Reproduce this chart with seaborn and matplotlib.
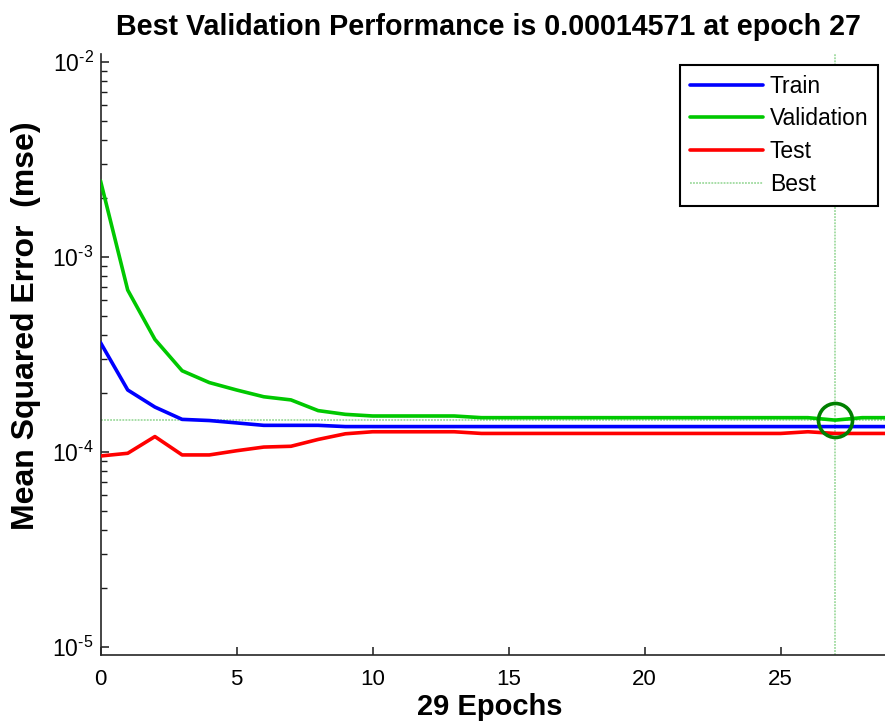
import numpy as np
import pandas as pd
import matplotlib
matplotlib.use("Agg")
import matplotlib.pyplot as plt
import seaborn as sns
from matplotlib.ticker import FixedLocator, FixedFormatter, NullFormatter

# ---------------- data ----------------
epochs = list(range(0, 30))
train = [3.64e-4, 2.08e-4, 1.70e-4, 1.47e-4, 1.45e-4, 1.41e-4, 1.37e-4, 1.37e-4,
         1.37e-4, 1.35e-4, 1.35e-4, 1.35e-4, 1.35e-4, 1.35e-4, 1.35e-4, 1.35e-4,
         1.35e-4, 1.35e-4, 1.35e-4, 1.35e-4, 1.35e-4, 1.35e-4, 1.35e-4, 1.35e-4,
         1.35e-4, 1.35e-4, 1.35e-4, 1.35e-4, 1.35e-4, 1.35e-4]
validation = [2.46e-3, 6.77e-4, 3.78e-4, 2.61e-4, 2.27e-4, 2.08e-4, 1.92e-4, 1.85e-4,
              1.63e-4, 1.56e-4, 1.53e-4, 1.53e-4, 1.53e-4, 1.53e-4, 1.50e-4, 1.50e-4,
              1.50e-4, 1.50e-4, 1.50e-4, 1.50e-4, 1.50e-4, 1.50e-4, 1.50e-4, 1.50e-4,
              1.50e-4, 1.50e-4, 1.50e-4, 1.4571e-4, 1.50e-4, 1.50e-4]
test = [9.54e-5, 9.85e-5, 1.20e-4, 9.66e-5, 9.66e-5, 1.015e-4, 1.06e-4, 1.07e-4,
        1.16e-4, 1.24e-4, 1.27e-4, 1.27e-4, 1.27e-4, 1.27e-4, 1.245e-4, 1.245e-4,
        1.245e-4, 1.245e-4, 1.245e-4, 1.245e-4, 1.245e-4, 1.245e-4, 1.245e-4, 1.245e-4,
        1.245e-4, 1.245e-4, 1.27e-4, 1.245e-4, 1.245e-4, 1.245e-4]
best_epoch = 27
best_value = 0.00014571
series_names = ["Train", "Validation", "Test"]
series_colors = ["#0000ff", "#00c800", "#ff0000"]
x_ticks = [0, 5, 10, 15, 20, 25]
y_major = [1e-5, 1e-4, 1e-3, 1e-2]
y_major_labels = [r"$\mathregular{10^{\text{-}5}}$", r"$\mathregular{10^{\text{-}4}}$",
                  r"$\mathregular{10^{\text{-}3}}$", r"$\mathregular{10^{\text{-}2}}$"]
title_text = "Best Validation Performance is 0.00014571 at epoch 27"
x_label = "29 Epochs"
y_label = "Mean Squared Error  (mse)"

# ---------------- style ----------------
sns.set_theme(style="white")
plt.rcParams["font.family"] = ["Liberation Sans", "DejaVu Sans"]
plt.rcParams["mathtext.fontset"] = "custom"
plt.rcParams["mathtext.rm"] = "Liberation Sans"
plt.rcParams["text.color"] = "black"
plt.rcParams["axes.labelcolor"] = "black"

W, H = 885, 721
fig = plt.figure(figsize=(W / 100, H / 100), dpi=100)
ax_left, ax_right, ax_top, ax_bottom = 100.5, 889.5, 54, 655
ax = fig.add_axes([ax_left / W, (H - ax_bottom) / H,
                   (ax_right - ax_left) / W, (ax_bottom - ax_top) / H])

df = pd.DataFrame({
    "epoch": epochs * 3,
    "mse": train + validation + test,
    "set": ["Train"] * len(epochs) + ["Validation"] * len(epochs) + ["Test"] * len(epochs),
})

for name, col in zip(series_names, series_colors):
    sns.lineplot(data=df[df["set"] == name], x="epoch", y="mse", color=col,
                 linewidth=2.6, label=name, ax=ax, sort=False, zorder=3)

best_col = "#8fd48f"
ax.axvline(best_epoch, color=best_col, linestyle=(0, (1.2, 0.8)), linewidth=1.1,
           label="Best", zorder=2)
ax.axhline(best_value, color=best_col, linestyle=(0, (1.2, 0.8)), linewidth=1.1,
           label="_nolegend_", zorder=2)
ax.plot([best_epoch], [best_value], marker="o", markersize=24.5, markerfacecolor="none",
        markeredgecolor="#008000", markeredgewidth=2.6, linestyle="none",
        label="_nolegend_", zorder=5)

ax.set_yscale("log")
ax.set_xlim(0, 29)
ax.set_ylim(10 ** -5.041, 10 ** -1.959)

ax.xaxis.set_major_locator(FixedLocator(x_ticks))
ax.set_xticklabels([str(t) for t in x_ticks])
ax.yaxis.set_major_locator(FixedLocator(y_major))
ax.yaxis.set_major_formatter(FixedFormatter(y_major_labels))
minor = [m * 10.0 ** e for e in range(-6, -1) for m in range(2, 10)]
ax.yaxis.set_minor_locator(FixedLocator(minor))
ax.yaxis.set_minor_formatter(NullFormatter())

ax.tick_params(axis="x", which="major", direction="in", length=6, width=1.1,
               colors="#1a1a1a", labelsize=16, pad=10, top=False, bottom=True)
ax.tick_params(axis="y", which="major", direction="in", length=6, width=1.1,
               colors="#1a1a1a", labelsize=16.5, pad=5, left=True, right=False)
ax.tick_params(axis="y", which="minor", direction="in", length=4.5, width=1.0,
               colors="#1a1a1a", left=True, right=False)
ax.tick_params(axis="x", which="minor", bottom=False, top=False)
for lab in ax.get_xticklabels() + ax.get_yticklabels():
    lab.set_color("black")

for s in ["top", "right"]:
    ax.spines[s].set_visible(False)
for s in ["left", "bottom"]:
    ax.spines[s].set_color("#262626")
    ax.spines[s].set_linewidth(1.2)

ax.grid(False)
ax.set_facecolor("white")

ax.set_xlabel(x_label, fontsize=21, fontweight="bold", color="black")
ax.set_ylabel(y_label, fontsize=23, fontweight="bold", color="black")
axw = ax_right - ax_left
axh = ax_bottom - ax_top
ax.xaxis.set_label_coords((490 - ax_left) / axw, (ax_bottom - 693) / axh)
ax.yaxis.set_label_coords((41 - ax_left) / axw, (ax_bottom - 326) / axh)

ax.text((488.5 - ax_left) / axw, (ax_bottom - 35) / axh, title_text,
        transform=ax.transAxes, ha="center", va="baseline",
        fontsize=20.6, fontweight="bold", color="black")

leg = ax.legend(loc="upper right",
                bbox_to_anchor=((878 - ax_left) / axw, (ax_bottom - 65) / axh),
                borderaxespad=0, fontsize=16.5, frameon=True, fancybox=False,
                framealpha=1, edgecolor="black", handlelength=3.2,
                handletextpad=0.3, labelspacing=0.43, borderpad=0.42)
leg.get_frame().set_linewidth(1.5)
for t in leg.get_texts():
    t.set_color("black")

fig.savefig("out.png", dpi=100, facecolor="white")
